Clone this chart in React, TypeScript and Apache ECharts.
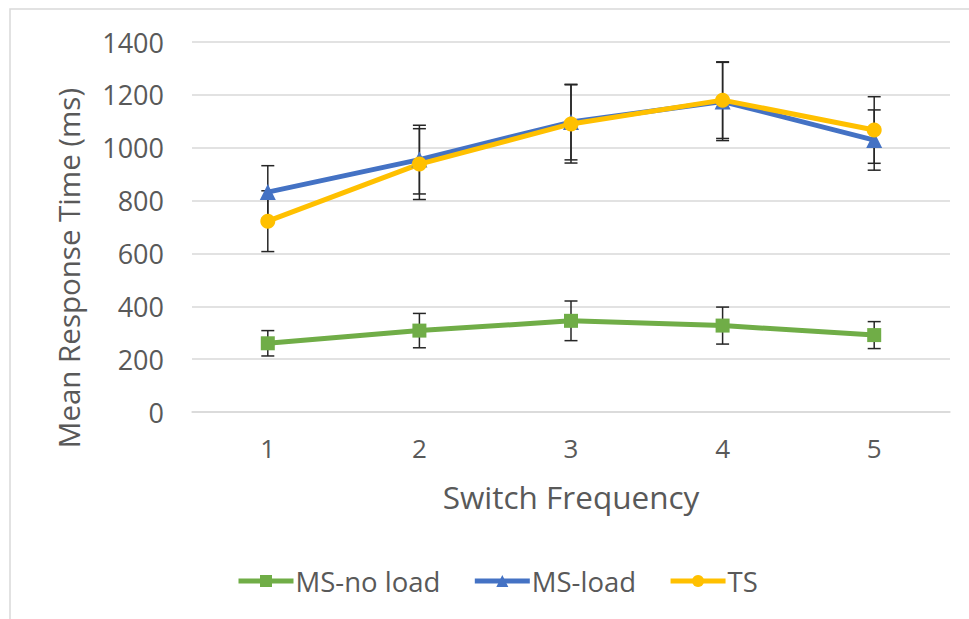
import React, { useEffect, useRef } from "react";
import * as echarts from "echarts";

const categories = ["1", "2", "3", "4", "5"];
const msNoLoad = [260, 308, 345, 327, 291];
const msNoLoadErr = [48, 65, 75, 70, 51];
const msLoad = [832, 955, 1097, 1175, 1029];
const msLoadErr = [100, 130, 143, 148, 114];
const ts = [722, 938, 1090, 1180, 1067];
const tsErr = [115, 134, 148, 145, 126];
const yTicks = { min: 0, max: 1400, interval: 200 };

const FONT = "Open Sans";
const TXT = "#595959";

function errData(vals: number[], errs: number[]) {
  return vals.map((v, i) => [i, v - errs[i], v + errs[i]]);
}

const renderErr = (params: any, api: any) => {
  const x = api.value(0);
  const lo = api.coord([x, api.value(1)]);
  const hi = api.coord([x, api.value(2)]);
  const hw = 6.5;
  const style = { stroke: "#262626", lineWidth: 1.5 };
  return {
    type: "group",
    children: [
      { type: "line", shape: { x1: lo[0], y1: lo[1], x2: hi[0], y2: hi[1] }, style },
      { type: "line", shape: { x1: lo[0] - hw, y1: lo[1], x2: lo[0] + hw, y2: lo[1] }, style },
      { type: "line", shape: { x1: hi[0] - hw, y1: hi[1], x2: hi[0] + hw, y2: hi[1] }, style },
    ],
  };
};

export default function App() {
  const ref = useRef<HTMLDivElement>(null);
  useEffect(() => {
    const chart = echarts.init(ref.current!, null, { renderer: "svg" });
    const lineSeries = (name: string, data: number[], color: string, symbol: string, size: number) => ({
      name,
      type: "line",
      data,
      symbol,
      symbolSize: size,
      showSymbol: true,
      lineStyle: { color, width: 5 },
      itemStyle: { color },
      z: 3,
    });
    chart.setOption({
      animation: false,
      backgroundColor: "#ffffff",
      textStyle: { fontFamily: FONT },
      graphic: [
        {
          type: "rect",
          shape: { x: 10, y: 9, width: 1000, height: 700 },
          style: { fill: "none", stroke: "#d9d9d9", lineWidth: 1.5 },
          silent: true,
          z: -1,
        },
        {
          type: "text",
          x: 68,
          y: 268,
          rotation: Math.PI / 2,
          style: {
            text: "Mean Response Time (ms)",
            fontFamily: FONT,
            fontSize: 29.5,
            fill: TXT,
            align: "center",
            verticalAlign: "middle",
          },
          silent: true,
        },
      ],
      grid: { left: 192, right: 19, top: 42, bottom: 207 },
      legend: {
        left: 231,
        top: 562,
        itemWidth: 55,
        itemHeight: 15,
        itemGap: 32,
        lineStyle: { width: 5 },
        textStyle: { fontFamily: FONT, fontSize: 27.5, color: TXT, padding: [0, 0, 0, -3] },
        data: ["MS-no load", "MS-load", "TS"],
      },
      xAxis: {
        type: "category",
        data: categories,
        name: "Switch Frequency",
        nameLocation: "middle",
        nameGap: 68,
        nameTextStyle: { fontFamily: FONT, fontSize: 31.5, color: TXT },
        axisLine: { lineStyle: { color: "#d9d9d9", width: 1.5 } },
        axisTick: { show: false },
        axisLabel: { fontFamily: FONT, fontSize: 26, color: TXT, margin: 23 },
      },
      yAxis: {
        type: "value",
        min: yTicks.min,
        max: yTicks.max,
        interval: yTicks.interval,
        axisLine: { show: false },
        axisTick: { show: false },
        splitLine: { lineStyle: { color: "#d9d9d9", width: 1.5 } },
        axisLabel: { fontFamily: FONT, fontSize: 27, color: TXT, margin: 28, formatter: (v: number) => String(v) },
      },
      series: [
        { type: "custom", name: "err1", renderItem: renderErr, data: errData(msNoLoad, msNoLoadErr), z: 1, silent: true },
        { type: "custom", name: "err2", renderItem: renderErr, data: errData(msLoad, msLoadErr), z: 1, silent: true },
        { type: "custom", name: "err3", renderItem: renderErr, data: errData(ts, tsErr), z: 1, silent: true },
        lineSeries("MS-no load", msNoLoad, "#70ad47", "rect", 14),
        lineSeries("MS-load", msLoad, "#4472c4", "triangle", 16),
        lineSeries("TS", ts, "#ffc000", "circle", 15),
      ],
    });
    return () => chart.dispose();
  }, []);
  return <div ref={ref} style={{ position: "absolute", left: 0, top: 0, width: 969, height: 619 }} />;
}
